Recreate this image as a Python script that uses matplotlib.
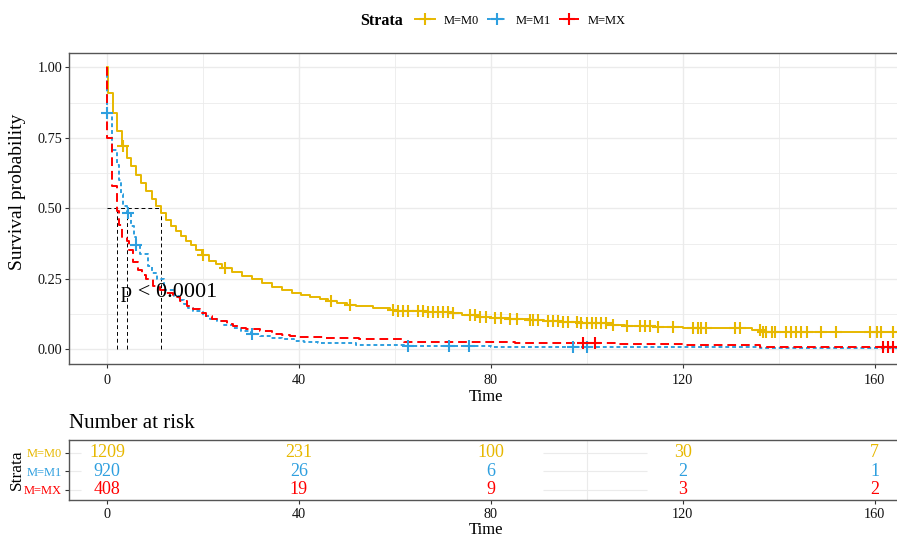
import numpy as np
import matplotlib
matplotlib.use("Agg")
import matplotlib.pyplot as plt
from matplotlib.lines import Line2D

plt.rcParams['font.family'] = ['Liberation Serif', 'DejaVu Serif']

# Kaplan-Meier step data (time, survival)
m0_time = [0, 0.3, 1.2, 2.0, 3.2, 4.1, 5.1, 6.15, 7.2, 8.2, 9.3, 10.3, 11.2, 12.25, 13.3, 14.3,
           15.4, 16.4, 17.5, 18.6, 19.8, 21.3, 22.7, 24.0, 26.1, 28.2, 30.3, 32.3, 34.4, 36.5,
           38.6, 40.5, 42.3, 44.5, 46.0, 48.0, 50.0, 52.0, 55.5, 59.0, 60.5, 66.0, 72.0, 74.0,
           77.0, 80.0, 84.0, 88.0, 91.0, 95.0, 98.0, 105.0, 108.0, 114.0, 120.0, 134.5, 136.5, 166.0]
m0_surv = [1.0, 0.909, 0.838, 0.773, 0.72, 0.678, 0.649, 0.62, 0.59, 0.561, 0.533, 0.507, 0.484, 0.46,
           0.437, 0.418, 0.401, 0.383, 0.369, 0.354, 0.336, 0.313, 0.301, 0.29, 0.274, 0.26, 0.248,
           0.234, 0.222, 0.21, 0.2, 0.194, 0.186, 0.178, 0.171, 0.165, 0.158, 0.152, 0.147, 0.141,
           0.136, 0.133, 0.129, 0.121, 0.116, 0.112, 0.108, 0.104, 0.1, 0.097, 0.094, 0.088, 0.082,
           0.079, 0.077, 0.069, 0.062, 0.062]
m0_cens = [3.3, 20.0, 24.6, 46.8, 50.7, 59.6, 60.7, 61.7, 62.8, 64.9, 65.9, 66.9, 68.0, 69.0, 70.1,
           71.1, 72.1, 75.6, 76.7, 77.7, 79.1, 80.8, 82.2, 84.0, 85.4, 88.1, 88.8, 89.9, 92.0, 93.0,
           94.0, 95.1, 96.1, 97.9, 98.9, 100.0, 101.0, 102.0, 103.0, 104.1, 105.5, 108.3, 111.0,
           112.1, 113.1, 114.9, 118.0, 122.1, 123.2, 123.9, 124.9, 130.8, 131.9, 136.0, 136.7,
           137.4, 138.5, 139.2, 141.6, 142.6, 143.7, 144.7, 145.8, 148.9, 152.0, 159.0, 160.4,
           161.4, 163.8]

m1_time = [0, 0.05, 1.1, 2.0, 2.6, 3.0, 3.4, 4.1, 5.0, 5.6, 6.0, 7.0, 8.5, 9.5, 10.4, 11.8, 13.9,
           15.0, 16.0, 17.0, 18.0, 20.1, 21.5, 22.9, 24.5, 26.3, 28.0, 30.0, 32.0, 34.0, 36.5, 38.9,
           41.0, 44.0, 52.0, 62.0, 80.0, 136.0, 166.0]
m1_surv = [1.0, 0.838, 0.708, 0.655, 0.6, 0.55, 0.51, 0.485, 0.437, 0.4, 0.37, 0.337, 0.296, 0.27,
           0.248, 0.212, 0.189, 0.175, 0.16, 0.148, 0.137, 0.118, 0.108, 0.1, 0.088, 0.077, 0.065,
           0.053, 0.047, 0.041, 0.035, 0.03, 0.026, 0.021, 0.014, 0.012, 0.009, 0.005, 0.005]
m1_cens = [0.07, 4.3, 6.1, 30.3, 62.8, 71.3, 75.4, 97.2, 100.0]

mx_time = [0, 0.1, 1.1, 2.1, 2.6, 3.2, 4.1, 4.7, 5.4, 6.4, 7.3, 8.2, 9.6, 11.0, 12.4, 13.8, 15.2,
           16.6, 18.0, 19.4, 20.7, 22.0, 23.5, 25.0, 26.3, 27.6, 29.0, 31.8, 34.5, 36.5, 38.1, 40.0,
           45.0, 52.5, 62.0, 85.0, 106.0, 120.0, 136.0, 166.0]
mx_surv = [1.0, 0.75, 0.578, 0.49, 0.44, 0.4, 0.385, 0.354, 0.31, 0.283, 0.265, 0.248, 0.224, 0.21,
           0.2, 0.185, 0.17, 0.155, 0.142, 0.13, 0.118, 0.109, 0.1, 0.091, 0.083, 0.077, 0.071,
           0.065, 0.055, 0.05, 0.047, 0.045, 0.039, 0.035, 0.026, 0.023, 0.018, 0.014, 0.01, 0.01]
mx_cens = [99.2, 101.7, 161.7, 162.8, 163.8]

strata = ['M=M0', 'M=M1', 'M=MX']
colors = ['#E7B800', '#2E9FDF', '#FF0000']
styles = ['-', (0, (2, 1.5)), (0, (4.5, 2.5))]

risk_times = [0, 40, 80, 120, 160]
risk_m0 = [1209, 231, 100, 30, 7]
risk_m1 = [920, 26, 6, 2, 1]
risk_mx = [408, 19, 9, 3, 2]


def step_value(times, surv, t):
    idx = np.searchsorted(times, t, side='right') - 1
    return np.array(surv)[idx]


def median_time(times, surv):
    for t, s in zip(times, surv):
        if s <= 0.5:
            return t
    return None


W, H = 897, 540
fig = plt.figure(figsize=(W / 100, H / 100), dpi=100)
ax = fig.add_axes([69 / W, 1 - 364 / H, (903 - 69) / W, (364 - 52.7) / H])
ax2 = fig.add_axes([69 / W, 1 - 500 / H, (903 - 69) / W, (500 - 440) / H])

xlim = (-7.9, 165.9)
grid_col = '#EBEBEB'
border_col = '#555555'

curves = [(m0_time, m0_surv, m0_cens), (m1_time, m1_surv, m1_cens), (mx_time, mx_surv, mx_cens)]
for (tt, ss, cc), col, ls in zip(curves, colors, styles):
    ax.step(tt, ss, where='post', color=col, lw=1.4, linestyle=ls, zorder=3)
    cy = step_value(tt, ss, cc)
    ax.plot(cc, cy, ls='none', marker='+', ms=8, mew=1.5, color=col, zorder=4)

# median survival lines
meds = [median_time(tt, ss) for tt, ss, _ in curves]
ax.plot([0, max(meds)], [0.5, 0.5], color='black', lw=0.7, ls=(0, (4, 3)), zorder=2)
for m in meds:
    ax.plot([m, m], [0, 0.5], color='black', lw=0.7, ls=(0, (4, 3)), zorder=2)

ax.text(3.0, 0.2, 'p < 0.0001', fontsize=16, ha='left', va='center', zorder=5)

ax.set_xlim(*xlim)
ax.set_ylim(-0.052, 1.052)
ax.set_xticks(risk_times)
ax.set_xticks([20, 60, 100, 140], minor=True)
ax.set_yticks([0, 0.25, 0.5, 0.75, 1.0])
ax.set_yticklabels(['0.00', '0.25', '0.50', '0.75', '1.00'])
ax.set_yticks([0.125, 0.375, 0.625, 0.875], minor=True)
ax.grid(which='major', color=grid_col, lw=1.0, zorder=0)
ax.grid(which='minor', color=grid_col, lw=0.6, zorder=0)
ax.set_axisbelow(True)
ax.tick_params(which='major', length=3, width=0.8, color='#333333', labelsize=10.3,
               labelcolor='#111111', pad=2)
ax.tick_params(axis='x', which='major', pad=4)
ax.tick_params(which='minor', length=0)
for sp in ax.spines.values():
    sp.set_color(border_col)
    sp.set_linewidth(1.0)
ax.set_xlabel('Time', fontsize=12, labelpad=1.5)
fig.text(18 / W, 1 - 192 / H, 'Survival probability', rotation=90, fontsize=14,
         ha='center', va='center')

# legend on top
handles = [Line2D([0], [0], color=c, lw=1.4, linestyle=ls, marker='+', ms=8, mew=1.5)
           for c, ls in zip(colors, styles)]
fig.legend(handles, strata, loc='center', bbox_to_anchor=(0.58, 1 - 20.7 / H), ncol=3,
           frameon=False, fontsize=9, handlelength=1.6, handletextpad=0.7, columnspacing=0.65)
fig.text(360 / W, 1 - 20.7 / H, 'Strata', fontsize=11.5, fontweight='bold', ha='left',
         va='center')

# risk table
rows = [3, 2, 1]
for vals, col, r in zip([risk_m0, risk_m1, risk_mx], colors, rows):
    for t, v in zip(risk_times, vals):
        ax2.text(t, r, str(v), color=col, fontsize=13, ha='center', va='center')
ax2.hlines(rows, -7.9, -5.5, color=grid_col, lw=0.8)
ax2.hlines(rows, 90.8, 112.5, color=grid_col, lw=0.8)
ax2.axvline(100, color=grid_col, lw=0.8)
ax2.set_xlim(*xlim)
ax2.set_ylim(0.45, 3.68)
ax2.set_xticks(risk_times)
ax2.set_yticks(rows)
ax2.set_yticklabels(strata, fontsize=9)
for lab, col in zip(ax2.get_yticklabels(), colors):
    lab.set_color(col)
ax2.tick_params(length=3, width=0.8, color='#333333', pad=2)
ax2.tick_params(axis='x', labelsize=10.3, labelcolor='#111111', pad=3)
for sp in ax2.spines.values():
    sp.set_color(border_col)
    sp.set_linewidth(1.0)
ax2.set_xlabel('Time', fontsize=12, labelpad=0.5)
fig.text(17 / W, 1 - 470 / H, 'Strata', rotation=90, fontsize=12.4, ha='center', va='center')
fig.text(69 / W, 1 - 424 / H, 'Number at risk', fontsize=15, ha='left', va='center')

fig.savefig('out.png', dpi=100)
